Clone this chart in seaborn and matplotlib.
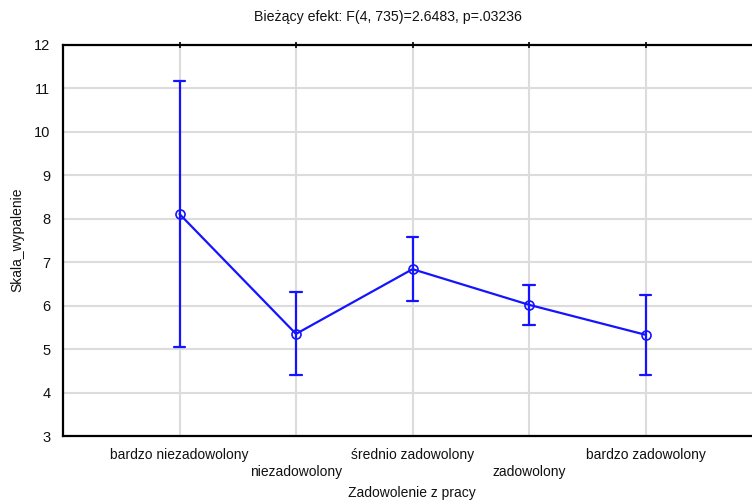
import matplotlib
matplotlib.use("Agg")
import matplotlib.pyplot as plt
import seaborn as sns
import pandas as pd

# Group means of Skala_wypalenie with lower/upper interval bounds
categories = ["bardzo niezadowolony", "niezadowolony", "średnio zadowolony",
              "zadowolony", "bardzo zadowolony"]
means = [8.11, 5.35, 6.84, 6.02, 5.33]
lower = [5.05, 4.40, 6.11, 5.56, 4.40]
upper = [11.17, 6.31, 7.58, 6.48, 6.25]
yticks = list(range(3, 13))

# Long table: each category carries its lower bound, mean and upper bound;
# median gives the mean, the 0-100 percentile interval gives the bounds.
rows = []
for c, lo, m, up in zip(categories, lower, means, upper):
    for v in (lo, m, up):
        rows.append({"Zadowolenie z pracy": c, "Skala_wypalenie": v})
df = pd.DataFrame(rows)

sns.set_style("white")
plt.rcParams["font.family"] = ["Liberation Sans", "DejaVu Sans"]
plt.rcParams["text.color"] = "#111111"

fig = plt.figure(figsize=(7.52, 5.03), dpi=100)
ax = fig.add_axes([63 / 752, 1 - 436 / 503, (762 - 63) / 752, (436 - 45) / 503])

blue = "#1414ff"
sns.pointplot(data=df, x="Zadowolenie z pracy", y="Skala_wypalenie",
              order=categories, estimator="median", errorbar=("pi", 100),
              color=blue, markers="o", linestyles="-", capsize=0.1,
              err_kws={"linewidth": 1.6}, linewidth=1.6,
              markersize=6.5, markerfacecolor="none", markeredgewidth=1.2,
              ax=ax, zorder=3)

ax.set_xlim(-1, 5)
ax.set_ylim(3, 12)
ax.set_yticks(yticks)
ax.set_yticklabels([str(t) for t in yticks], fontsize=10.5)
ax.set_xticks(range(len(categories)))
ax.set_xticklabels([c if i % 2 == 0 else "\n" + c for i, c in enumerate(categories)],
                   fontsize=10, linespacing=1.3)

ax.grid(True, color="#dcdcdc", linewidth=1.5)
ax.set_axisbelow(True)
for side in ("left", "bottom", "top"):
    ax.spines[side].set_color("black")
    ax.spines[side].set_linewidth(1.6)
ax.spines["right"].set_visible(False)

ax.tick_params(axis="y", direction="out", length=5, width=1.2, colors="black",
               labelcolor="#111111", pad=4)
ax.tick_params(axis="x", direction="inout", length=5, width=1.2, colors="black",
               labelcolor="#111111", pad=6, top=True)

ax.set_xlabel("")
ax.set_ylabel("")
fig.text(412 / 752, 1 - 493 / 503, "Zadowolenie z pracy",
         ha="center", va="center", fontsize=10)
fig.text(17 / 752, 1 - 240 / 503, "Skala_wypalenie", rotation=90,
         ha="center", va="center", fontsize=10)

fig.text(388 / 752, 1 - 17 / 503, "Bieżący efekt: F(4, 735)=2.6483, p=.03236",
         ha="center", va="center", fontsize=10.2)

fig.savefig("out.png", dpi=100)
